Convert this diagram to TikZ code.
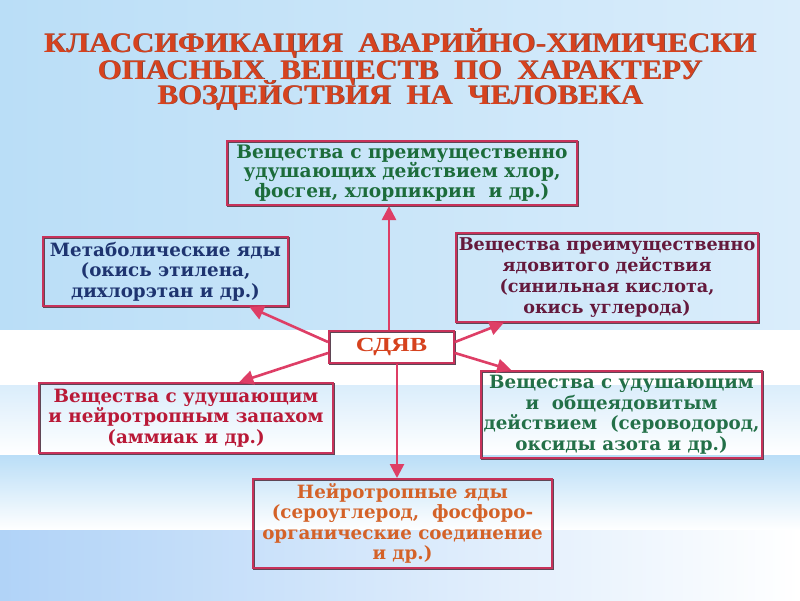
\documentclass[tikz,border=0pt]{standalone}
\usepackage{fontspec}
\setmainfont{DejaVu Serif}
\newfontfamily\titlefont{Liberation Serif}
\usetikzlibrary{arrows.meta,calc}
\definecolor{ttl}{RGB}{214,66,30}
\definecolor{ttlsh}{RGB}{110,70,70}
\definecolor{bord}{RGB}{200,50,90}
\definecolor{bordsh}{RGB}{95,70,85}
\definecolor{arrc}{RGB}{222,62,102}
\definecolor{cgreen}{RGB}{28,108,58}
\definecolor{cblue}{RGB}{30,52,112}
\definecolor{cmaroon}{RGB}{100,25,60}
\definecolor{ccrim}{RGB}{185,25,55}
\definecolor{cgreen2}{RGB}{35,112,72}
\definecolor{corange}{RGB}{212,98,40}
\definecolor{bgA}{RGB}{186,222,247}
\definecolor{bgB}{RGB}{218,237,251}
\newcommand{\ttlline}[1]{\scalebox{1.06}[0.97]{#1}}
\begin{document}
\begin{tikzpicture}[x=1pt,y=-1pt,
  box/.style={draw=bord, line width=2pt, anchor=north west, inner sep=0pt, align=center,
    font=\fontsize{18.3}{20.5}\selectfont\bfseries,
    preaction={draw=bordsh, line width=2pt, transform canvas={shift={(1.3pt,-1.3pt)}}}},
  ttlstyle/.style={anchor=base, font=\titlefont\fontsize{29}{30}\selectfont\bfseries, text=ttl, inner sep=0pt},
  ttlshadow/.style={ttlstyle, text=ttlsh},
  arr/.style={draw=arrc, line width=2.6pt, -{Triangle[length=14pt,width=14pt]}}]
\useasboundingbox (0,0) rectangle (800,600);
% background
\shade[left color=bgA, right color=bgB] (0,0) rectangle (800,330);
\fill[white] (0,330) rectangle (800,385);
\shade[top color=bgB, bottom color=white] (0,385) rectangle (800,455);
\shade[top color=bgA, bottom color=white] (0,455) rectangle (800,530);
\shade[left color=bgA!95!blue, right color=white] (0,530) rectangle (800,600);
% title
\node[ttlshadow] (t1s) at (400.8,52.8) {\ttlline{КЛАССИФИКАЦИЯ\ \ АВАРИЙНО-ХИМИЧЕСКИ}};
\node[ttlstyle] (t1) at (400,52) {\ttlline{КЛАССИФИКАЦИЯ\ \ АВАРИЙНО-ХИМИЧЕСКИ}};
\node[ttlshadow] (t2s) at (400.8,79.8) {\ttlline{ОПАСНЫХ\ \ ВЕЩЕСТВ\ \ ПО\ \ ХАРАКТЕРУ}};
\node[ttlstyle] (t2) at (400,79) {\ttlline{ОПАСНЫХ\ \ ВЕЩЕСТВ\ \ ПО\ \ ХАРАКТЕРУ}};
\node[ttlshadow] (t3s) at (400.8,104.8) {\ttlline{ВОЗДЕЙСТВИЯ\ \ НА\ \ ЧЕЛОВЕКА}};
\node[ttlstyle] (t3) at (400,104) {\ttlline{ВОЗДЕЙСТВИЯ\ \ НА\ \ ЧЕЛОВЕКА}};
% boxes
\node[box, minimum width=350, minimum height=64, text=cgreen,
  font=\fontsize{18.6}{19.5}\selectfont\bfseries] (top) at (226,140)
  {Вещества с преимущественно\\удушающих действием хлор,\\фосген, хлорпикрин\ \ и др.)};
\node[box, minimum width=245, minimum height=69, text=cblue] (ul) at (42,236)
  {Метаболические яды\\(окись этилена,\\дихлорэтан и др.)};
\node[box, minimum width=302, minimum height=89, text=cmaroon,
  font=\fontsize{17.6}{21}\selectfont\bfseries] (ur) at (455,232)
  {Вещества преимущественно\\ядовитого действия\\(синильная кислота,\\окись углерода)};
\node[box, minimum width=125, minimum height=32, text=ttl,
  font=\titlefont\fontsize{20}{22}\selectfont\bfseries] (c) at (328,330) {\scalebox{1.3}[1]{СДЯВ}};
\node[box, minimum width=294, minimum height=70, text=ccrim] (ll) at (38,382)
  {Вещества с удушающим\\и нейротропным запахом\\(аммиак и др.)};
\node[box, minimum width=281, minimum height=87, text=cgreen2] (lr) at (480,370)
  {Вещества с удушающим\\и\ \ общеядовитым\\действием\ \ (сероводород,\\оксиды азота и др.)};
\node[box, minimum width=299, minimum height=89, text=corange] (b) at (252,478)
  {Нейротропные яды\\(сероуглерод,\ \ фосфоро-\\органические соединение\\и др.)};
% connectors
\coordinate (ctop) at ($(c.north)+(-2.5,0)$);
\coordinate (cbot) at ($(c.south)+(5.5,0)$);
\draw[arr] (ctop) -- (ctop |- top.south);
\draw[arr] (cbot) -- (cbot |- b.north);
\draw[arr] ($(c.west)+(0,-5)$) -- ($(ul.south west)!0.84!(ul.south east)$);
\draw[arr] ($(c.east)+(0,-5)$) -- ($(ur.south west)!0.16!(ur.south east)$);
\draw[arr] ($(c.west)+(0,6)$) -- ($(ll.north west)!0.68!(ll.north east)$);
\draw[arr] ($(c.east)+(0,6)$) -- ($(lr.north west)!0.11!(lr.north east)$);
\end{tikzpicture}
\end{document}
